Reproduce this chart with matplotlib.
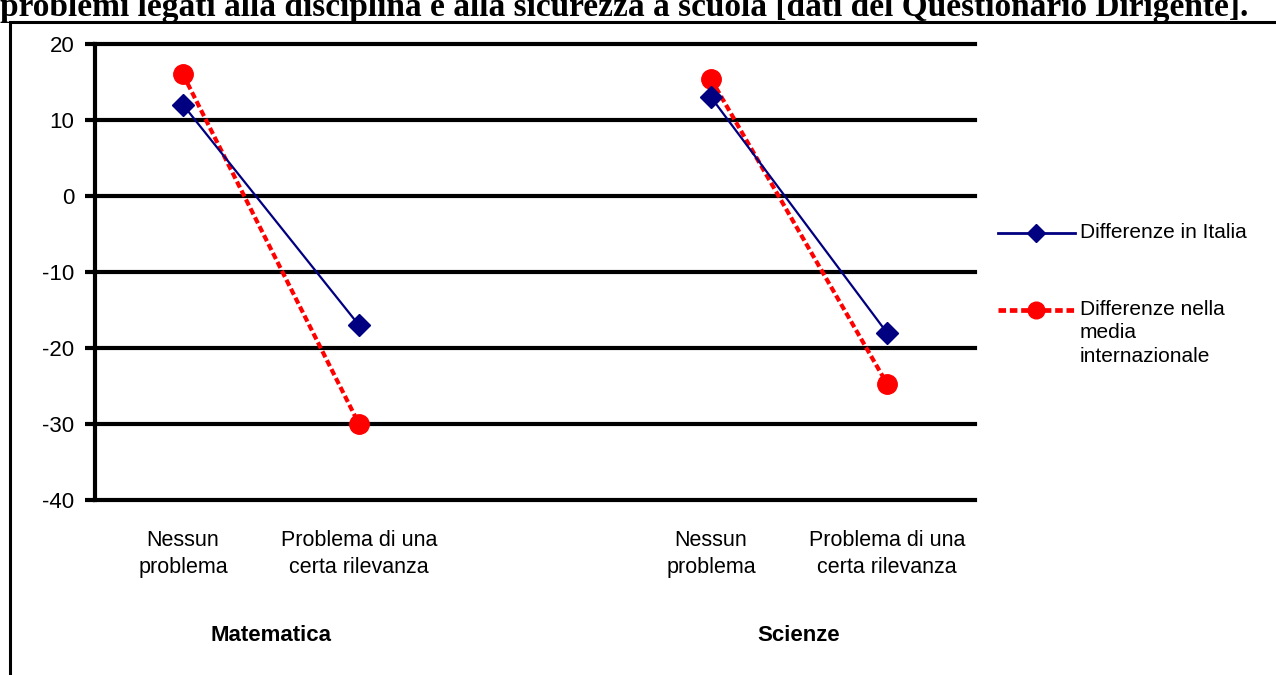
import numpy as np
import matplotlib
matplotlib.use('Agg')
import matplotlib.pyplot as plt
from matplotlib.patches import Rectangle
from matplotlib.lines import Line2D

#_____________________________ DATI ___________________________________________
categorie = ['Nessun\nproblema', 'Problema di una\ncerta rilevanza', '',
             'Nessun\nproblema', 'Problema di una\ncerta rilevanza']
gruppi = ['Matematica', 'Scienze']
italia = [12, -17, np.nan, 13, -18]
internazionale = [16, -30, np.nan, 15.4, -24.7]
serie = ['Differenze in Italia', 'Differenze nella\nmedia\ninternazionale']
yticks = [20, 10, 0, -10, -20, -30, -40]

#_____________________________ FIGURA _________________________________________
plt.rcParams['font.family'] = ['Liberation Sans', 'DejaVu Sans']
plt.rcParams['axes.unicode_minus'] = False
fig = plt.figure(figsize=(12.76, 6.75), dpi=100)
ax = fig.add_axes([95/1276, 1 - 500/675, 880/1276, 456/675])

blu = dict(color='#000080', lw=1.6, marker='D', ms=11)
rosso = dict(color='#ff0000', lw=3, ls=(0, (1.6, 0.8)), marker='o', ms=14)

x = np.arange(len(categorie))
ax.plot(x, italia, zorder=4, **blu)
ax.plot(x, internazionale, zorder=3, **rosso)

ax.set_xlim(-0.5, len(categorie) - 0.5)
ax.set_ylim(-40, 20)
ax.set_yticks(yticks)
ax.tick_params(axis='y', labelsize=16, width=3, length=7, pad=8)
ax.set_xticks([])
for yv in yticks:
    ax.axhline(yv, color='black', lw=3, zorder=1, clip_on=False)
for s in ['top', 'right', 'bottom']:
    ax.spines[s].set_visible(False)
ax.spines['left'].set_linewidth(3)

# etichette categorie
for xi, lab in zip(x, categorie):
    ax.text(xi, -47.1, lab, ha='center', va='center', fontsize=15.5,
            linespacing=1.35, clip_on=False)
for i, g in enumerate(gruppi):
    ax.text(3 * i + 0.5, -57.8, g, ha='center', va='center', fontsize=16,
            fontweight='bold', clip_on=False)

# legenda
leg_y = [1 - 233/675, 1 - 310/675]
for stile, lab, yy in zip([blu, rosso], serie, leg_y):
    fig.add_artist(Line2D([998/1276, 1075/1276], [yy, yy],
                          transform=fig.transFigure, color=stile['color'],
                          lw=stile['lw'] + 0.4, ls=stile['ls'] if 'ls' in stile else '-'))
    fig.add_artist(Line2D([1036/1276], [yy], transform=fig.transFigure, ls='none',
                          marker=stile['marker'], ms=stile['ms'] - 2, color=stile['color']))
    fig.text(1080/1276, yy + 10/675, lab, ha='left', va='top', fontsize=15,
             linespacing=1.3)

# cornice e titolo (tagliato in alto come nell'originale)
fig.patches.append(Rectangle((10/1276, -0.1), 1.2, 1 - 22/675 + 0.1,
                             transform=fig.transFigure, fill=False,
                             edgecolor='black', lw=2.2))
fig.text(0, 1 - 16/675,
         'problemi legati alla disciplina e alla sicurezza a scuola [dati del Questionario Dirigente].',
         ha='left', va='baseline', fontsize=24, fontweight='bold',
         family=['Liberation Serif', 'DejaVu Serif'])

fig.savefig('out.png', dpi=100)
